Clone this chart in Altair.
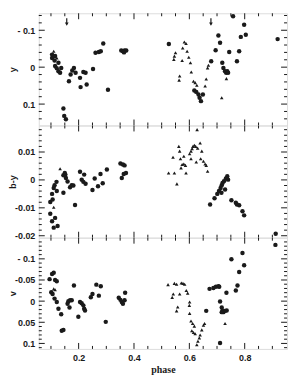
import altair as alt
import pandas as pd

# ---------------- data ----------------
# top panel (y)
y_phase_c = [0.104, 0.115, 0.104, 0.113, 0.127, 0.115, 0.121, 0.127, 0.133, 0.137, 0.145, 0.148, 0.154,
             0.165, 0.171, 0.177, 0.183, 0.189, 0.205, 0.217, 0.225, 0.207, 0.229, 0.252, 0.261, 0.273,
             0.280, 0.289, 0.306, 0.354, 0.360, 0.366, 0.372, 0.364, 0.526, 0.618, 0.625, 0.633, 0.637,
             0.642, 0.649, 0.679, 0.695, 0.705, 0.711, 0.719, 0.723, 0.729, 0.733, 0.737, 0.740, 0.744,
             0.758, 0.772, 0.780, 0.786, 0.798, 0.804, 0.919]
y_val_c = [-0.034, -0.030, -0.025, -0.018, -0.012, -0.003, 0.003, 0.011, 0.015, 0.002, 0.112, 0.132, 0.141,
           0.038, 0.020, 0.009, 0.002, 0.015, 0.029, 0.013, 0.015, 0.054, 0.047, 0.005, -0.039, -0.041,
           -0.043, -0.064, 0.061, -0.045, -0.043, -0.045, -0.045, -0.040, -0.063, 0.063, 0.067, 0.074, 0.083,
           0.092, 0.074, -0.016, -0.046, -0.086, -0.066, -0.012, 0.002, 0.011, 0.015, 0.011, 0.015, -0.041,
           -0.138, -0.016, -0.043, -0.082, -0.115, -0.088, -0.076]
y_phase_t = [0.110, 0.121, 0.550, 0.546, 0.544, 0.574, 0.576, 0.582, 0.588, 0.592, 0.598, 0.604, 0.565,
             0.563, 0.607, 0.615, 0.621, 0.627, 0.657, 0.661, 0.666, 0.669, 0.717, 0.734]
y_val_t = [-0.043, -0.025, -0.039, -0.030, -0.021, -0.018, -0.052, -0.068, -0.064, -0.043, -0.027, -0.012, 0.024,
           0.035, 0.013, 0.038, 0.042, 0.049, 0.051, 0.032, 0.002, -0.005, 0.083, 0.031]

# middle panel (b-y)
by_phase_c = [0.0975, 0.0975, 0.104, 0.110, 0.124, 0.115, 0.106, 0.104, 0.110, 0.113, 0.120, 0.121, 0.145,
              0.145, 0.150, 0.152, 0.154, 0.160, 0.169, 0.175, 0.181, 0.187, 0.205, 0.220, 0.211, 0.217,
              0.225, 0.250, 0.258, 0.270, 0.279, 0.287, 0.302, 0.351, 0.360, 0.366, 0.356, 0.363, 0.371,
              0.675, 0.691, 0.701, 0.707, 0.713, 0.717, 0.720, 0.725, 0.732, 0.737, 0.740, 0.729, 0.716,
              0.752, 0.768, 0.772, 0.780, 0.792, 0.798, 0.912]
by_val_c = [-0.0079, -0.0121, -0.0148, -0.0171, -0.0165, -0.0136, -0.0070, -0.0050, -0.0029, -0.0019, -0.0007,
            -0.0040, -0.0046, 0.0017, 0.0025, 0.0019, 0.0007, -0.0006, -0.0026, -0.0019, -0.0020, -0.0090,
            0.0029, 0.0019, 0.0001, -0.0007, -0.0014, -0.0036, 0.0005, -0.0023, 0.0021, -0.0012, 0.0037,
            0.0059, 0.0055, 0.0052, 0.0007, 0.0021, 0.0025, -0.0088, -0.0066, -0.0050, -0.0040, -0.0029,
            -0.0019, -0.0011, -0.0005, 0.0005, 0.0013, 0.0001, -0.0034, -0.0046, -0.0073, -0.0082, -0.0088,
            -0.0091, -0.0112, -0.0127, -0.0193]
by_phase_t = [0.110, 0.133, 0.628, 0.525, 0.546, 0.555, 0.541, 0.562, 0.565, 0.568, 0.580, 0.574, 0.580,
              0.586, 0.570, 0.588, 0.601, 0.606, 0.610, 0.613, 0.618, 0.623, 0.606, 0.625, 0.630, 0.639,
              0.645, 0.641, 0.651, 0.657, 0.661, 0.666]
by_val_t = [-0.0098, 0.0040, 0.0180, 0.0025, 0.0025, -0.0014, 0.0081, 0.0120, 0.0103, 0.0076, 0.0085, 0.0055,
            0.0057, 0.0052, 0.0043, 0.0025, 0.0094, 0.0103, 0.0112, 0.0120, 0.0124, 0.0120, 0.0076, 0.0064,
            0.0114, 0.0132, 0.0103, 0.0076, 0.0067, 0.0057, 0.0052, 0.0031]

# bottom panel (v)
v_phase_c = [0.095, 0.104, 0.110, 0.115, 0.121, 0.101, 0.106, 0.113, 0.121, 0.127, 0.137, 0.139, 0.145,
             0.160, 0.163, 0.169, 0.175, 0.167, 0.183, 0.199, 0.205, 0.211, 0.217, 0.220, 0.223, 0.244,
             0.250, 0.264, 0.280, 0.273, 0.298, 0.345, 0.351, 0.356, 0.360, 0.366, 0.368, 0.661, 0.673,
             0.687, 0.696, 0.705, 0.708, 0.711, 0.717, 0.720, 0.723, 0.729, 0.735, 0.717, 0.711, 0.734,
             0.752, 0.768, 0.774, 0.780, 0.792, 0.798, 0.911]
v_val_c = [-0.052, -0.064, -0.067, -0.050, -0.047, -0.021, -0.017, -0.006, 0.002, 0.018, 0.031, 0.070, 0.068,
           0.006, 0.000, -0.002, -0.002, 0.015, -0.037, 0.037, 0.002, 0.005, 0.010, 0.018, 0.022, -0.009,
           -0.017, -0.039, -0.035, -0.013, 0.049, -0.008, -0.003, 0.002, 0.006, -0.002, -0.020, 0.023, -0.029,
           -0.031, -0.034, -0.035, -0.034, 0.001, 0.015, 0.022, 0.026, 0.023, 0.022, 0.026, 0.099, -0.020,
           -0.099, -0.025, -0.037, -0.069, -0.114, -0.085, -0.133]
v_phase_t = [0.110, 0.115, 0.523, 0.546, 0.554, 0.571, 0.577, 0.583, 0.542, 0.538, 0.565, 0.589, 0.594,
             0.601, 0.600, 0.558, 0.554, 0.601, 0.606, 0.612, 0.618, 0.609, 0.615, 0.621, 0.627, 0.631,
             0.636, 0.639, 0.645, 0.651, 0.655, 0.729]
v_val_t = [-0.029, -0.027, -0.039, -0.042, -0.040, -0.043, -0.042, -0.040, -0.017, -0.009, -0.017, -0.025,
           -0.019, 0.002, 0.010, 0.014, 0.023, 0.029, 0.047, 0.053, 0.059, 0.070, 0.074, 0.077, 0.103, 0.095,
           0.087, 0.080, 0.068, 0.057, 0.053, 0.053]

arrow_phase = [0.157, 0.678]

# axes / ticks
x_major = [0.2, 0.4, 0.6, 0.8]
x_labels = ["0.2", "0.4", "0.6", "0.8"]
x_minor = [0.1, 0.15, 0.25, 0.3, 0.35, 0.45, 0.5, 0.55, 0.65, 0.7, 0.75, 0.85, 0.9]

y_major = [-0.1, 0.0, 0.1]
y_labels = ["- 0.1", "0", "0.1"]
y_minor = [-0.14, -0.12, -0.08, -0.06, -0.04, -0.02, 0.02, 0.04, 0.06, 0.08, 0.12, 0.14]

by_major = [-0.02, -0.01, 0.0, 0.01]
by_labels = ["-0.02", "-0.01", "0", "0.01"]
by_minor = [-0.018, -0.016, -0.014, -0.012, -0.008, -0.006, -0.004, -0.002,
            0.002, 0.004, 0.006, 0.008, 0.012, 0.014, 0.016, 0.018]

v_major = [-0.1, -0.05, 0.0, 0.05, 0.1]
v_labels = ["- 0.1", "-0.05", "0", "0.05", "0.1"]
v_minor = [-0.14, -0.13, -0.12, -0.11, -0.09, -0.08, -0.07, -0.06, -0.04, -0.03, -0.02, -0.01,
           0.01, 0.02, 0.03, 0.04, 0.06, 0.07, 0.08, 0.09, 0.11]

X_DOMAIN = [0.056, 0.953]
W = 250
INK = "#1a1a1a"
FONT = "Liberation Sans"


def lab_expr(vals, labs):
    return "".join(f"abs(datum.value - ({v})) < 1e-9 ? '{l}' : " for v, l in zip(vals, labs)) + "''"


def panel(pc, vc, pt, vt, dom, rev, ymaj, ylab, ymin, title, h, bottom=False, arrows=False):
    xs = alt.Scale(domain=X_DOMAIN, nice=False, zero=False)
    ys = alt.Scale(domain=dom, nice=False, zero=False, reverse=rev)
    if bottom:
        xaxis = alt.Axis(values=x_major, labelExpr=lab_expr(x_major, x_labels), ticks=False, domain=False,
                         grid=False, title="phase", labelPadding=5, titlePadding=2,
                         labelFont=FONT, labelFontSize=9, labelFontWeight="bold", labelColor=INK,
                         titleFont="Liberation Serif", titleFontSize=10, titleFontWeight="bold",
                         titleColor=INK)
    else:
        xaxis = None
    yaxis = alt.Axis(values=ymaj, labelExpr=lab_expr(ymaj, ylab), ticks=False, domain=False, grid=False,
                     title=title, titleX=-21, titleY=h / 2, labelPadding=4,
                     labelFont=FONT, labelFontSize=9, labelFontWeight="bold", labelColor=INK,
                     titleFont=FONT, titleFontSize=9, titleFontWeight="bold", titleColor=INK)

    dc = pd.DataFrame({"phase": pc, "val": vc})
    dt = pd.DataFrame({"phase": pt, "val": vt})
    X = alt.X("phase:Q", scale=xs, axis=xaxis)
    Y = alt.Y("val:Q", scale=ys, axis=yaxis)

    circ = alt.Chart(dc).mark_point(filled=True, shape="circle", size=20, color=INK, opacity=1).encode(x=X, y=Y)
    tri = alt.Chart(dt).mark_point(filled=True, shape="triangle-up", size=13, color=INK, opacity=1).encode(x=X, y=Y)

    layers = [circ, tri]
    XT = alt.X("t:Q", scale=xs, axis=xaxis)
    YT = alt.Y("t:Q", scale=ys, axis=yaxis)
    for vals, ln in ((x_major, 6), (x_minor, 3)):
        d = pd.DataFrame({"t": vals})
        layers.append(alt.Chart(d).mark_rule(color=INK, strokeWidth=1).encode(x=XT, y=alt.value(0), y2=alt.value(ln)))
        layers.append(alt.Chart(d).mark_rule(color=INK, strokeWidth=1).encode(x=XT, y=alt.value(h), y2=alt.value(h - ln)))
    for vals, ln in ((ymaj, 6), (ymin, 3)):
        d = pd.DataFrame({"t": vals})
        layers.append(alt.Chart(d).mark_rule(color=INK, strokeWidth=1).encode(y=YT, x=alt.value(0), x2=alt.value(ln)))
        layers.append(alt.Chart(d).mark_rule(color=INK, strokeWidth=1).encode(y=YT, x=alt.value(W), x2=alt.value(W - ln)))
    if arrows:
        da = pd.DataFrame({"phase": arrow_phase})
        XA = alt.X("phase:Q", scale=xs, axis=xaxis)
        layers.append(alt.Chart(da).mark_rule(color=INK, strokeWidth=1.2).encode(
            x=XA, y=alt.value(5), y2=alt.value(11)))
        layers.append(alt.Chart(da).mark_point(filled=True, shape="triangle-down", size=14, color=INK,
                                               opacity=1).encode(x=XA, y=alt.value(11)))
    return alt.layer(*layers).properties(width=W, height=h)


top = panel(y_phase_c, y_val_c, y_phase_t, y_val_t, [-0.146, 0.158], True, y_major, y_labels, y_minor, "y", 113,
            arrows=True)
mid = panel(by_phase_c, by_val_c, by_phase_t, by_val_t, [-0.0207, 0.0195], False, by_major, by_labels, by_minor,
            "b-y", 113)
bot = panel(v_phase_c, v_val_c, v_phase_t, v_val_t, [-0.150, 0.113], True, v_major, v_labels, v_minor, "v", 112,
            bottom=True)

chart = alt.vconcat(top, mid, bot, spacing=0, bounds="flush").properties(
    padding={"left": 0, "top": 3, "right": 5, "bottom": 5}
).configure_view(stroke=INK, strokeWidth=1.2).configure(background="white")

chart.save("out.html", embed_options={"renderer": "svg", "actions": False})
